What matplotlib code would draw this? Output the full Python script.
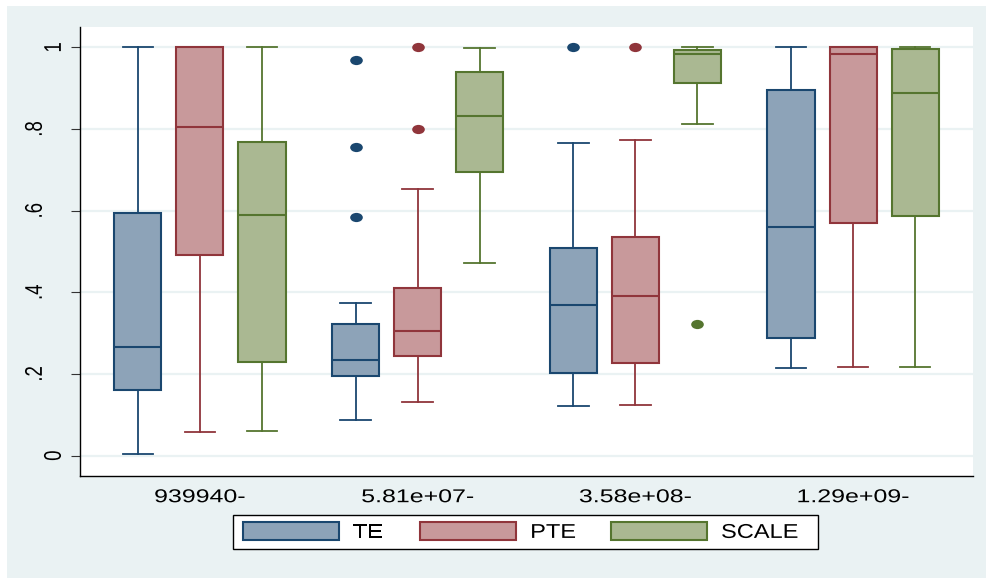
import numpy as np
import matplotlib
matplotlib.use("Agg")
import matplotlib.pyplot as plt
from matplotlib.patches import Patch, Rectangle
from matplotlib.path import Path
from matplotlib.patheffects import AbstractPathEffect
from matplotlib.transforms import Affine2D, ScaledTranslation

# ---- data -------------------------------------------------------------
groups = ["939940-", "5.81e+07-", "3.58e+08-", "1.29e+09-"]
series = ["TE", "PTE", "SCALE"]

te_lo = [0.004, 0.088, 0.122, 0.214]
te_q1 = [0.161, 0.194, 0.202, 0.289]
te_med = [0.267, 0.235, 0.369, 0.561]
te_q3 = [0.595, 0.323, 0.509, 0.896]
te_hi = [1.000, 0.373, 0.767, 1.000]
te_out = [[], [0.970, 0.757, 0.584], [1.000], []]

pte_lo = [0.058, 0.131, 0.123, 0.218]
pte_q1 = [0.492, 0.244, 0.228, 0.571]
pte_med = [0.806, 0.306, 0.390, 0.985]
pte_q3 = [1.000, 0.411, 0.535, 1.000]
pte_hi = [1.000, 0.653, 0.772, 1.000]
pte_out = [[], [1.000, 0.801], [1.000], []]

scale_lo = [0.060, 0.472, 0.812, 0.218]
scale_q1 = [0.230, 0.695, 0.913, 0.587]
scale_med = [0.589, 0.832, 0.983, 0.889]
scale_q3 = [0.769, 0.940, 0.993, 0.997]
scale_hi = [1.000, 0.998, 1.000, 1.000]
scale_out = [[], [], [0.322], []]

y_ticks = [0, 0.2, 0.4, 0.6, 0.8, 1.0]
y_ticklabels = ["0", ".2", ".4", ".6", ".8", "1"]

# ---- style ------------------------------------------------------------
W, H = 986, 579
BG = "#EAF2F3"
edge_colors = ["#1A476F", "#90353B", "#55752F"]
fill_colors = ["#8DA3B8", "#C8999B", "#AAB892"]
plt.rcParams["font.family"] = ["Liberation Sans", "DejaVu Sans"]


class WideText(AbstractPathEffect):
    """Draw a text path widened horizontally about one of its edges."""

    def __init__(self, factor, anchor="center"):
        super().__init__()
        self._factor = factor
        self._anchor = anchor

    def draw_path(self, renderer, gc, tpath, affine, rgbFace=None):
        ext = tpath.get_extents(affine)
        if self._anchor == "left":
            x0 = ext.x0
        elif self._anchor == "right":
            x0 = ext.x1
        else:
            x0 = 0.5 * (ext.x0 + ext.x1)
        widen = Affine2D().translate(-x0, 0).scale(self._factor, 1.0).translate(x0, 0)
        renderer.draw_path(gc, tpath, affine + widen, rgbFace)


def legend_frame(x0, y0, width, height, mutation_size):
    left, right = 3.2, 25.0
    verts = [(x0 - left, y0), (x0 + width + right, y0),
             (x0 + width + right, y0 + height), (x0 - left, y0 + height),
             (x0 - left, y0)]
    return Path(verts, closed=True)


# oval flier marker
oval = Path.unit_circle().transformed(Affine2D().scale(1.37, 1.0))

fig = plt.figure(figsize=(W / 100, H / 100), dpi=100, facecolor="white")
fig.add_artist(Rectangle((7 / W, 1 / H), (W - 7) / W, (H - 7) / H,
                         transform=fig.transFigure, facecolor=BG,
                         edgecolor="none", zorder=-5))

ax = fig.add_axes([80 / W, (H - 476) / H, 893 / W, 449 / H])
ax.set_facecolor("white")
ax.set_axisbelow(True)
ax.yaxis.grid(True, color=BG, linewidth=1.6)
ax.xaxis.grid(False)

offsets = [-0.285, 0.0, 0.285]
all_series = [
    (te_lo, te_q1, te_med, te_q3, te_hi, te_out),
    (pte_lo, pte_q1, pte_med, pte_q3, pte_hi, pte_out),
    (scale_lo, scale_q1, scale_med, scale_q3, scale_hi, scale_out),
]
x_base = np.arange(len(groups))
for j, (lo, q1, med, q3, hi, out) in enumerate(all_series):
    stats = [dict(whislo=lo[i], q1=q1[i], med=med[i], q3=q3[i],
                  whishi=hi[i], fliers=out[i]) for i in range(len(groups))]
    ec, fc = edge_colors[j], fill_colors[j]
    ax.bxp(stats, positions=x_base + offsets[j], widths=0.216, capwidths=0.141,
           patch_artist=True, showfliers=True, manage_ticks=False,
           boxprops=dict(facecolor=fc, edgecolor=ec, linewidth=1.5),
           whiskerprops=dict(color=ec, linewidth=1.3),
           capprops=dict(color=ec, linewidth=1.3),
           medianprops=dict(color=ec, linewidth=1.5),
           flierprops=dict(marker=oval, markersize=9.1, markerfacecolor=ec,
                           markeredgecolor="none", linestyle="none"))

ax.set_xlim(-0.551, 3.551)
ax.set_ylim(-0.05, 1.05)
ax.set_xticks(x_base, groups)
ax.set_yticks(y_ticks, y_ticklabels)

for side in ("top", "right"):
    ax.spines[side].set_visible(False)
for side in ("left", "bottom"):
    ax.spines[side].set_color("black")
    ax.spines[side].set_linewidth(1.0)

ax.tick_params(axis="x", length=0, pad=9.5, labelsize=13.4, labelcolor="black")
ax.tick_params(axis="y", length=6.5, width=0.8, color="#333333", pad=4.4,
               labelsize=13.4, labelcolor="black")
for lab in ax.get_xticklabels():
    lab.set_path_effects([WideText(1.34, "center")])
# decimal labels sit further out from the axis than the integer ones
shift_out = ScaledTranslation(-0.19, 0, fig.dpi_scale_trans)
for lab in ax.get_yticklabels():
    lab.set_rotation(90)
    lab.set_va("center")
    lab.set_path_effects([WideText(1.3, "right")])
    if lab.get_text().startswith("."):
        lab.set_transform(lab.get_transform() + shift_out)

handles = [Patch(facecolor=fill_colors[k], edgecolor=edge_colors[k],
                 linewidth=1.5, label=series[k]) for k in range(3)]
leg = fig.legend(handles=handles, loc="upper left",
                 bbox_to_anchor=(236.15 / W, (H - 515) / H),
                 bbox_transform=fig.transFigure, ncol=3, fontsize=14.4,
                 handlelength=4.8, handleheight=1.05, handletextpad=0.7,
                 columnspacing=2.1, borderpad=0.34, borderaxespad=0,
                 frameon=True, fancybox=False, edgecolor="black",
                 framealpha=1)
leg.get_frame().set_linewidth(1.0)
leg.get_frame().set_boxstyle(legend_frame)
for t in leg.get_texts():
    t.set_path_effects([WideText(1.18, "left")])

fig.savefig("out.png", dpi=100, facecolor="white")
